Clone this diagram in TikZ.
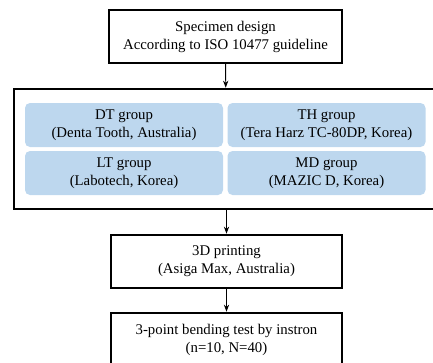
\documentclass[tikz,border=0pt]{standalone}
\usepackage{fontspec}
\setmainfont{Liberation Serif}
\usepackage{xcolor}
\usetikzlibrary{arrows.meta,positioning}
\definecolor{groupblue}{HTML}{BDD7EE}

\begin{document}
\begin{tikzpicture}[>=Stealth, x=1pt, y=-1pt,
    font=\fontsize{14.8}{18}\selectfont,
    stepbox/.style={draw, line width=1.4pt, align=center, inner sep=0pt},
    groupbox/.style={fill=groupblue, rounded corners=5pt, align=center,
        inner sep=0pt, minimum width=198pt, minimum height=44pt},
    flow/.style={->, line width=0.9pt, shorten >=0.6pt}]
        \clip (0,0) rectangle (433,362);
        
        % Specimen design
        \node[stepbox, minimum width=233pt, minimum height=53pt] (design) at (225.5,36.5)
            {Specimen design\\According to ISO 10477 guideline};
        
        % Groups
        \node[stepbox, minimum width=424pt, minimum height=120pt] (groups) at (226,149) {};
        \node[groupbox] (dt) at (124,125) {DT group\\(Denta Tooth, Australia)};
        \node[groupbox] (th) at (326.5,125) {TH group\\(Tera Harz TC-80DP, Korea)};
        \node[groupbox] (lt) at (124,173) {LT group\\(Labotech, Korea)};
        \node[groupbox] (md) at (326.5,173) {MD group\\(MAZIC D, Korea)};
        
        % Printing and testing
        \node[stepbox, minimum width=231pt, minimum height=53pt] (print) at (226.5,261.5)
            {3D printing\\(Asiga Max, Australia)};
        \node[stepbox, minimum width=231pt, minimum height=53pt] (test) at (226.5,339.5)
            {3-point bending test by instron\\(n=10, N=40)};
        
        \draw[flow] (design) -- (groups);
        \draw[flow] (groups.south -| print.north) -- (print);
        \draw[flow] (print) -- (test);
    \end{tikzpicture}
\end{document}
